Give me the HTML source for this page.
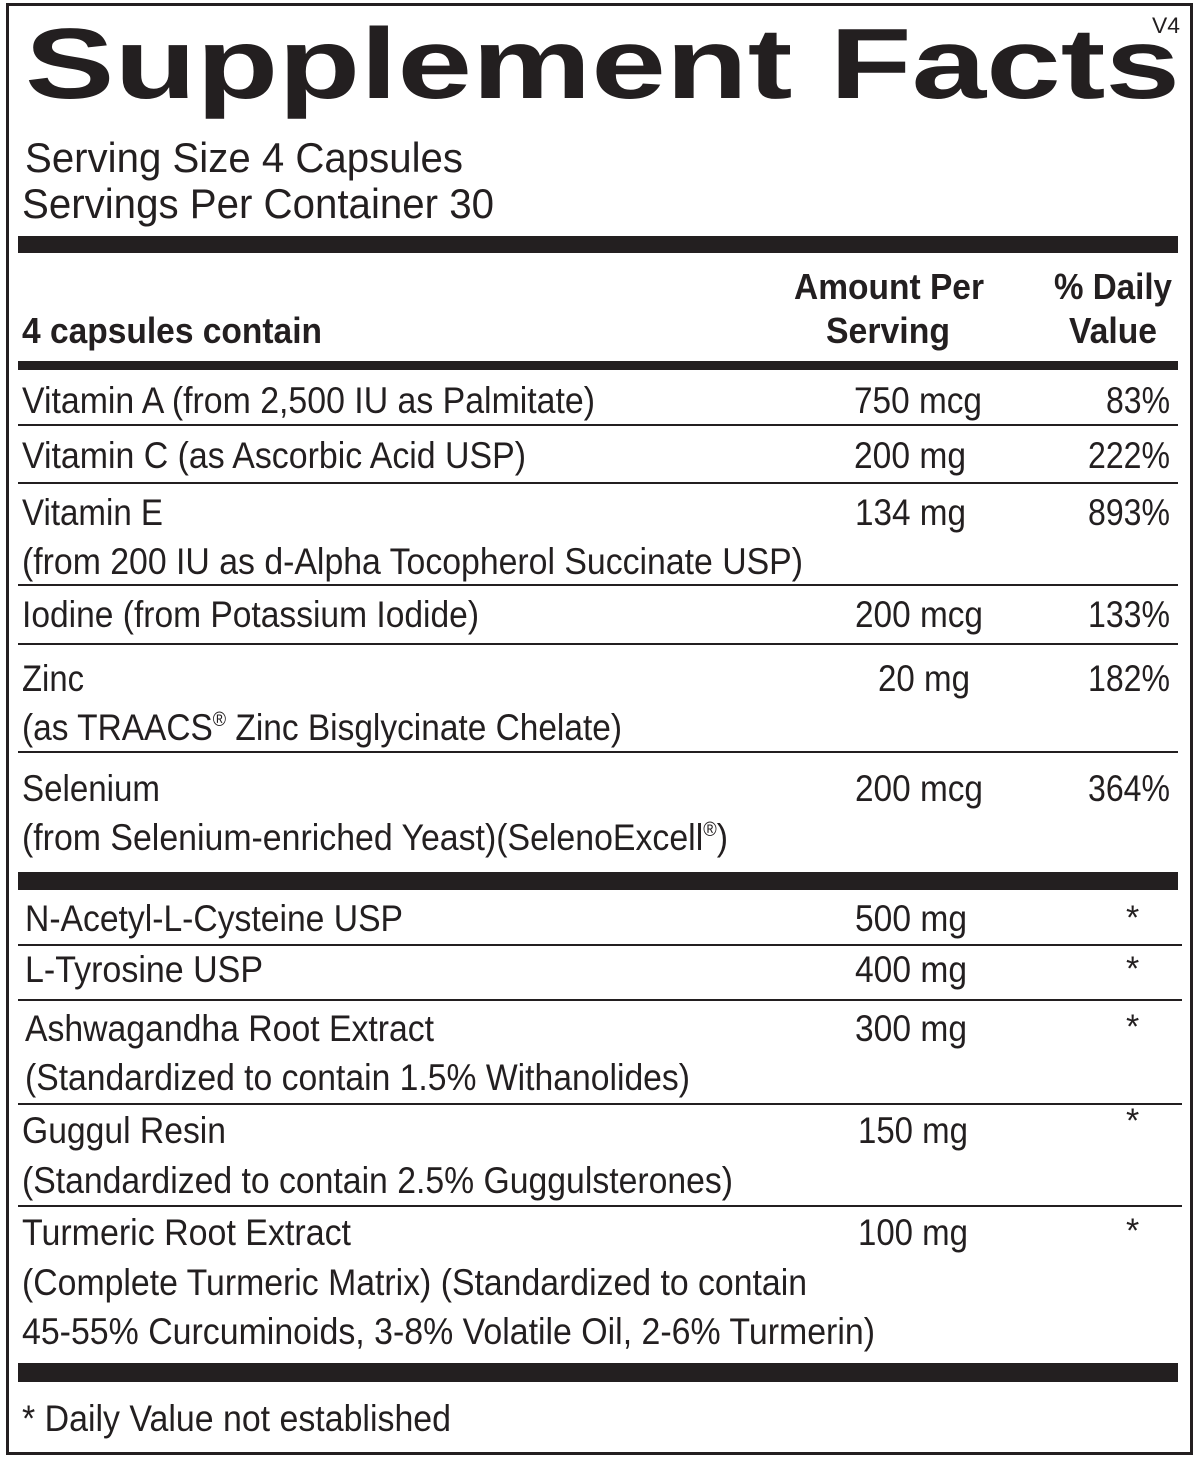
<!DOCTYPE html>
<html><head><meta charset="utf-8"><style>
html,body{margin:0;padding:0;background:#fff;}
svg{display:block;}
text{font-family:"Liberation Sans",sans-serif;fill:#231f20;}
</style></head><body>
<svg width="1200" height="1467" viewBox="0 0 1200 1467" xmlns="http://www.w3.org/2000/svg">
<rect x="0" y="0" width="1200" height="1467" fill="#fff"/>
<rect x="7.5" y="4.5" width="1184" height="1449" fill="none" stroke="#231f20" stroke-width="3"/>
<g fill="#231f20">
<rect x="18" y="236" width="1160" height="17"/>
<rect x="18" y="361" width="1160" height="9"/>
<rect x="18" y="872" width="1160" height="18"/>
<rect x="18" y="1363" width="1160" height="19"/>
<rect x="18" y="424" width="1160" height="2"/>
<rect x="18" y="482" width="1160" height="2"/>
<rect x="18" y="584" width="1160" height="2"/>
<rect x="18" y="643" width="1160" height="2"/>
<rect x="18" y="751" width="1160" height="2"/>
<rect x="18" y="944" width="1164" height="2"/>
<rect x="18" y="999" width="1164" height="2"/>
<rect x="18" y="1103" width="1164" height="2"/>
<rect x="18" y="1205" width="1164" height="2"/>
</g>
<g>
<text x="25" y="98" font-size="100" font-weight="bold" textLength="1155" lengthAdjust="spacingAndGlyphs">Supplement Facts</text>
<text x="1152" y="33" font-size="22" textLength="28" lengthAdjust="spacingAndGlyphs">V4</text>
<text x="25" y="172" font-size="42" textLength="438" lengthAdjust="spacingAndGlyphs">Serving Size 4 Capsules</text>
<text x="22" y="218" font-size="42" textLength="472" lengthAdjust="spacingAndGlyphs">Servings Per Container 30</text>
<text x="794" y="299" font-size="36" font-weight="bold" textLength="190" lengthAdjust="spacingAndGlyphs">Amount Per</text>
<text x="826" y="343" font-size="36" font-weight="bold" textLength="124" lengthAdjust="spacingAndGlyphs">Serving</text>
<text x="1054" y="299" font-size="36" font-weight="bold" textLength="118" lengthAdjust="spacingAndGlyphs">% Daily</text>
<text x="1069" y="343" font-size="36" font-weight="bold" textLength="88" lengthAdjust="spacingAndGlyphs">Value</text>
<text x="22" y="343" font-size="36" font-weight="bold" textLength="300" lengthAdjust="spacingAndGlyphs">4 capsules contain</text>
</g>
<g font-size="37">
<text x="22" y="413" textLength="573" lengthAdjust="spacingAndGlyphs">Vitamin A (from 2,500 IU as Palmitate)</text>
<text x="854" y="413" textLength="128" lengthAdjust="spacingAndGlyphs">750 mcg</text>
<text x="1106" y="413" textLength="64" lengthAdjust="spacingAndGlyphs">83%</text>
<text x="22" y="468" textLength="504" lengthAdjust="spacingAndGlyphs">Vitamin C (as Ascorbic Acid USP)</text>
<text x="854" y="468" textLength="112" lengthAdjust="spacingAndGlyphs">200 mg</text>
<text x="1088" y="468" textLength="82" lengthAdjust="spacingAndGlyphs">222%</text>
<text x="22" y="525" textLength="141" lengthAdjust="spacingAndGlyphs">Vitamin E</text>
<text x="855" y="525" textLength="111" lengthAdjust="spacingAndGlyphs">134 mg</text>
<text x="1088" y="525" textLength="82" lengthAdjust="spacingAndGlyphs">893%</text>
<text x="22" y="574" textLength="781" lengthAdjust="spacingAndGlyphs">(from 200 IU as d-Alpha Tocopherol Succinate USP)</text>
<text x="22" y="627" textLength="457" lengthAdjust="spacingAndGlyphs">Iodine (from Potassium Iodide)</text>
<text x="855" y="627" textLength="128" lengthAdjust="spacingAndGlyphs">200 mcg</text>
<text x="1088" y="627" textLength="82" lengthAdjust="spacingAndGlyphs">133%</text>
<text x="22" y="691" textLength="62" lengthAdjust="spacingAndGlyphs">Zinc</text>
<text x="878" y="691" textLength="92" lengthAdjust="spacingAndGlyphs">20 mg</text>
<text x="1088" y="691" textLength="82" lengthAdjust="spacingAndGlyphs">182%</text>
<text x="22" y="740" textLength="600" lengthAdjust="spacingAndGlyphs">(as TRAACS<tspan font-size="20" dy="-14">®</tspan><tspan dy="14"> Zinc Bisglycinate Chelate)</tspan></text>
<text x="22" y="801" textLength="138" lengthAdjust="spacingAndGlyphs">Selenium</text>
<text x="855" y="801" textLength="128" lengthAdjust="spacingAndGlyphs">200 mcg</text>
<text x="1088" y="801" textLength="82" lengthAdjust="spacingAndGlyphs">364%</text>
<text x="22" y="850" textLength="706" lengthAdjust="spacingAndGlyphs">(from Selenium-enriched Yeast)(SelenoExcell<tspan font-size="20" dy="-14">®</tspan><tspan dy="14">)</tspan></text>
<text x="25" y="931" textLength="378" lengthAdjust="spacingAndGlyphs">N-Acetyl-L-Cysteine USP</text>
<text x="855" y="931" textLength="112" lengthAdjust="spacingAndGlyphs">500 mg</text>
<text x="1126" y="929" font-size="34">*</text>
<text x="25" y="982" textLength="238" lengthAdjust="spacingAndGlyphs">L-Tyrosine USP</text>
<text x="855" y="982" textLength="112" lengthAdjust="spacingAndGlyphs">400 mg</text>
<text x="1126" y="980" font-size="34">*</text>
<text x="25" y="1041" textLength="409" lengthAdjust="spacingAndGlyphs">Ashwagandha Root Extract</text>
<text x="855" y="1041" textLength="112" lengthAdjust="spacingAndGlyphs">300 mg</text>
<text x="1126" y="1038" font-size="34">*</text>
<text x="25" y="1090" textLength="665" lengthAdjust="spacingAndGlyphs">(Standardized to contain 1.5% Withanolides)</text>
<text x="22" y="1143" textLength="204" lengthAdjust="spacingAndGlyphs">Guggul Resin</text>
<text x="858" y="1143" textLength="110" lengthAdjust="spacingAndGlyphs">150 mg</text>
<text x="1126" y="1132" font-size="34">*</text>
<text x="22" y="1193" textLength="711" lengthAdjust="spacingAndGlyphs">(Standardized to contain 2.5% Guggulsterones)</text>
<text x="22" y="1245" textLength="329" lengthAdjust="spacingAndGlyphs">Turmeric Root Extract</text>
<text x="858" y="1245" textLength="110" lengthAdjust="spacingAndGlyphs">100 mg</text>
<text x="1126" y="1242" font-size="34">*</text>
<text x="22" y="1295" textLength="785" lengthAdjust="spacingAndGlyphs">(Complete Turmeric Matrix) (Standardized to contain</text>
<text x="22" y="1344" textLength="853" lengthAdjust="spacingAndGlyphs">45-55% Curcuminoids, 3-8% Volatile Oil, 2-6% Turmerin)</text>
<text x="22" y="1431" textLength="429" lengthAdjust="spacingAndGlyphs">* Daily Value not established</text>
</g>
</svg>
</body></html>
